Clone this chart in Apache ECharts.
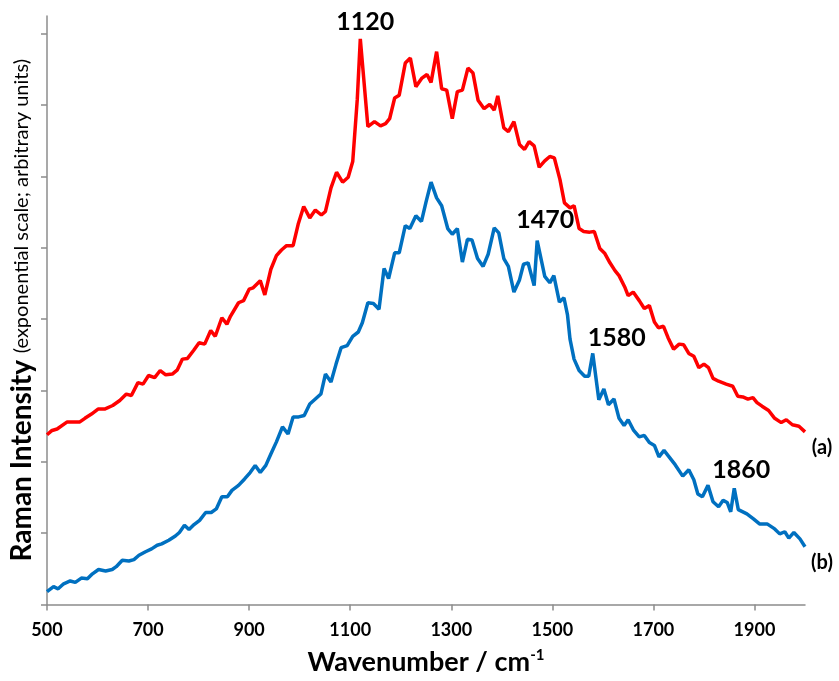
<!DOCTYPE html>
<html>
<head>
<meta charset="utf-8">
<title>Raman spectra</title>
<script src="https://cdn.jsdelivr.net/npm/echarts@6/dist/echarts.min.js"></script>
<style>
  html, body { margin: 0; padding: 0; background: #fff; }
  #chart { width: 839px; height: 681px; }
</style>
</head>
<body>
<div id="chart"></div>
<script>
// spectrum (a) - red
var wavenumberA = [500,510,520,540,565,575,588,601,614,630,644,657,667,680,690,701,713,724,735,748,758,768,778,790,801,812,824,833,846,856,863,879,889,900,908,922,931,943,954,964,974,987,997,1008,1020,1031,1043,1051,1062,1073,1085,1096,1105,1114,1120,1135,1148,1160,1170,1178,1188,1197,1209,1219,1230,1242,1252,1260,1271,1281,1291,1302,1312,1322,1333,1343,1353,1365,1376,1385,1392,1404,1413,1424,1435,1445,1454,1464,1474,1485,1495,1504,1515,1524,1535,1543,1553,1562,1574,1583,1594,1604,1614,1624,1632,1644,1650,1660,1672,1682,1692,1702,1710,1720,1729,1740,1751,1760,1770,1780,1790,1800,1809,1818,1829,1844,1857,1867,1877,1887,1897,1905,1915,1928,1940,1953,1963,1975,1988,2000];
var intensityA = [2.38,2.44,2.46,2.56,2.56,2.61,2.67,2.74,2.74,2.79,2.86,2.95,2.93,3.11,3.09,3.21,3.18,3.28,3.22,3.23,3.29,3.44,3.45,3.56,3.67,3.65,3.84,3.76,4.02,3.93,4.04,4.23,4.26,4.42,4.44,4.54,4.34,4.70,4.89,4.97,5.03,5.03,5.33,5.58,5.42,5.53,5.46,5.51,5.84,6.06,5.92,5.99,6.21,7.08,7.93,6.70,6.77,6.71,6.74,6.81,7.10,7.14,7.59,7.66,7.26,7.38,7.43,7.32,7.75,7.23,7.21,6.81,7.19,7.21,7.52,7.45,7.07,6.95,7.01,6.93,7.13,6.68,6.63,6.77,6.45,6.38,6.49,6.43,6.13,6.22,6.28,6.26,5.96,5.63,5.56,5.59,5.27,5.23,5.22,5.23,4.99,4.92,4.79,4.68,4.61,4.44,4.33,4.38,4.26,4.15,4.19,3.96,3.88,3.90,3.74,3.58,3.65,3.64,3.52,3.48,3.32,3.37,3.32,3.17,3.13,3.09,3.06,2.92,2.91,2.88,2.90,2.83,2.78,2.72,2.61,2.55,2.59,2.52,2.50,2.42];

// spectrum (b) - blue
var wavenumberB = [500,513,522,533,546,556,568,580,590,602,616,629,637,649,662,672,682,695,707,718,727,741,754,762,772,781,791,802,814,825,835,846,857,866,879,891,902,912,922,933,943,954,966,977,987,998,1009,1020,1031,1042,1051,1062,1072,1082,1094,1105,1116,1124,1135,1146,1157,1167,1176,1188,1197,1209,1218,1230,1241,1250,1260,1271,1281,1293,1302,1312,1322,1332,1341,1352,1363,1373,1385,1394,1404,1413,1424,1435,1443,1452,1464,1470,1485,1495,1503,1514,1523,1530,1535,1543,1553,1564,1572,1580,1592,1602,1611,1622,1632,1642,1650,1661,1672,1682,1692,1702,1711,1721,1731,1743,1758,1770,1780,1788,1797,1808,1818,1829,1838,1846,1853,1860,1868,1885,1898,1910,1925,1940,1950,1960,1968,1978,1990,2000];
var intensityB = [0.18,0.25,0.22,0.29,0.33,0.31,0.37,0.36,0.43,0.49,0.47,0.49,0.53,0.62,0.61,0.63,0.69,0.74,0.78,0.83,0.85,0.90,0.96,1.01,1.11,1.05,1.12,1.18,1.29,1.29,1.34,1.51,1.51,1.60,1.67,1.76,1.85,1.95,1.85,1.95,2.11,2.28,2.49,2.39,2.63,2.63,2.65,2.81,2.88,2.95,3.23,3.12,3.37,3.60,3.63,3.76,3.82,3.95,4.23,4.22,4.14,4.71,4.57,4.93,4.93,5.31,5.27,5.45,5.37,5.64,5.92,5.70,5.59,5.27,5.19,5.27,4.80,5.12,5.11,4.85,4.74,4.91,5.28,5.21,4.85,4.74,4.38,4.55,4.77,4.79,4.47,5.10,4.60,4.51,4.61,4.24,4.30,4.06,3.72,3.44,3.28,3.20,3.20,3.52,2.87,3.02,2.80,2.88,2.61,2.51,2.59,2.44,2.35,2.37,2.27,2.23,2.07,2.16,2.07,1.96,1.80,1.89,1.75,1.55,1.51,1.67,1.44,1.37,1.46,1.43,1.30,1.63,1.33,1.27,1.20,1.13,1.13,1.06,0.99,1.02,0.93,1.01,0.92,0.81];

var xTicks = [500,700,900,1100,1300,1500,1700,1900];
var yTicks = [0,1,2,3,4,5,6,7,8];
var peaksA = [1120];
var peaksB = [1470,1580,1860];

function pairs(xs, ys) {
  return xs.map(function (x, i) { return [x, ys[i]]; });
}
function at(xs, ys, w) {
  return [w, ys[xs.indexOf(w)]];
}

var axisGrey = '#8c8c8c';
var font = 'Lato, "Open Sans", sans-serif';
var peakLabel = { show: true, position: 'inside', color: '#000', fontFamily: font, fontWeight: 'bold', fontSize: 25 };
var endLabel = { show: true, position: 'inside', color: '#000', fontFamily: font, fontWeight: 'bold', fontSize: 20 };

var peakOffsets = { 1120: [5, -17], 1470: [8, -21], 1580: [24, -15], 1860: [7, -18] };

function markPts(xs, ys, peaks, tag) {
  var pts = peaks.map(function (p) {
    return { name: String(p), coord: at(xs, ys, p),
      label: Object.assign({}, peakLabel, { offset: peakOffsets[p] }) };
  });
  var last = xs.length - 1;
  pts.push({ name: tag, coord: [xs[last], ys[last]],
    label: Object.assign({}, endLabel, { offset: [17, 16] }) });
  return {
    symbol: 'circle', symbolSize: 1,
    itemStyle: { color: 'rgba(0,0,0,0)' },
    label: { formatter: '{b}' },
    data: pts
  };
}

var chart = echarts.init(document.getElementById('chart'));
chart.setOption({
  animation: false,
  backgroundColor: '#fff',
  grid: { left: 40, right: 34, top: 16, bottom: 75, containLabel: false },
  xAxis: {
    type: 'value', min: 500, max: 2000, interval: 100,
    name: '{t|Wavenumber / cm}{s|-1}',
    nameLocation: 'middle', nameGap: 43,
    nameTextStyle: {
      rich: {
        t: { fontFamily: font, fontWeight: 'bold', fontSize: 27, color: '#000', lineHeight: 30 },
        s: { fontFamily: font, fontWeight: 'bold', fontSize: 15, color: '#000', lineHeight: 15, verticalAlign: 'top' }
      }
    },
    axisLine: { show: true, lineStyle: { color: axisGrey, width: 1.5 } },
    axisTick: { show: true, customValues: xTicks, length: 6, lineStyle: { color: axisGrey, width: 1.5 } },
    axisLabel: {
      customValues: xTicks, color: '#000', fontFamily: font, fontWeight: 'bold', fontSize: 18, margin: 17,
      formatter: function (v) { return String(v); }
    },
    splitLine: { show: false }
  },
  yAxis: {
    type: 'value', min: 0, max: 8.25, interval: 1,
    name: '{b|Raman Intensity}  {r|(exponential scale; arbitrary units)}',
    nameLocation: 'middle', nameRotate: 90, nameGap: 11,
    nameTextStyle: {
      rich: {
        b: { fontFamily: font, fontWeight: 'bold', fontSize: 28, color: '#000' },
        r: { fontFamily: font, fontSize: 20, color: '#000' }
      }
    },
    axisLine: { show: true, lineStyle: { color: axisGrey, width: 1.5 } },
    axisTick: { show: true, customValues: yTicks, length: 6, lineStyle: { color: axisGrey, width: 1.5 } },
    axisLabel: { show: false },
    splitLine: { show: false }
  },
  series: [
    {
      name: '(a)', type: 'line', symbol: 'none',
      data: pairs(wavenumberA, intensityA),
      lineStyle: { color: '#ff0000', width: 3.5 },
      itemStyle: { color: '#ff0000' },
      markPoint: markPts(wavenumberA, intensityA, peaksA, '(a)')
    },
    {
      name: '(b)', type: 'line', symbol: 'none',
      data: pairs(wavenumberB, intensityB),
      lineStyle: { color: '#0070c0', width: 3.5 },
      itemStyle: { color: '#0070c0' },
      markPoint: markPts(wavenumberB, intensityB, peaksB, '(b)')
    }
  ]
});
</script>
</body>
</html>
